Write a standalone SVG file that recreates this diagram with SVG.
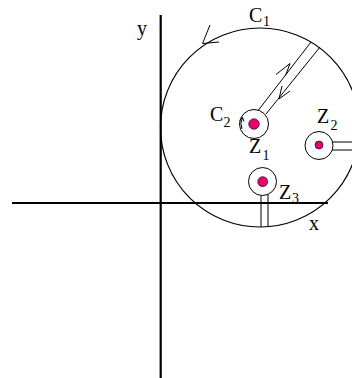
<svg xmlns="http://www.w3.org/2000/svg" width="352" height="378" viewBox="0 0 352 378">
<style>
.ax{stroke:#000;stroke-width:2.2;fill:none}
.ln{stroke:#000;stroke-width:1.2;fill:none}
.th{stroke:#000;stroke-width:1;fill:none}
.ring{stroke:#000;stroke-width:1;fill:#fff}
.dot{fill:#e8006e;stroke:#000;stroke-width:0.6}
.t{font-family:"Liberation Serif","Times New Roman",serif;font-size:20px;fill:#000}
.s{font-family:"Liberation Serif","Times New Roman",serif;font-size:14px;fill:#000}
</style>
<rect width="352" height="378" fill="#fff"/>
<g id="axes">
<line class="ax" x1="12" y1="203" x2="328" y2="203"/>
<line class="ax" x1="160.7" y1="15" x2="160.7" y2="378"/>
<text class="t" x="137" y="35">y</text>
<text class="t" x="309" y="230">x</text>
</g>
<g id="C1">
<circle class="ln" cx="260" cy="127.5" r="99.5"/>
<text class="t" x="249" y="22">C</text><text class="s" x="263" y="26">1</text>
</g>
<g id="connectors">
<line class="th" x1="257" y1="112" x2="311" y2="42"/>
<line class="th" x1="266" y1="114" x2="320" y2="47"/>
<line class="th" x1="332.7" y1="142" x2="352" y2="142"/>
<line class="th" x1="332" y1="150" x2="352" y2="150"/>
<line class="th" x1="261" y1="195.4" x2="261" y2="227"/>
<line class="th" x1="268" y1="194.4" x2="268" y2="226.7"/>
<polyline class="th" points="276,74.5 290,63.5 285.5,75.5"/>
<polyline class="th" points="290,91 279,99 282,86"/>
<polyline class="th" points="210,25 202.5,43.5 219,42"/>
</g>
<g id="Z1">
<circle class="ring" cx="254" cy="124" r="14.5"/>
<circle class="dot" cx="254" cy="124" r="5.3"/>
<path class="th" d="M242,129 Q239.5,123 242.5,117.5"/>
<polyline class="th" points="239.5,120.5 242.5,117.5 244,121.5"/>
<text class="t" x="210" y="121">C</text><text class="s" x="223.5" y="127">2</text>
<text class="t" x="249" y="153">Z</text><text class="s" x="262.5" y="160">1</text>
</g>
<g id="Z2">
<circle class="ring" cx="319" cy="145.5" r="14"/>
<circle class="dot" cx="319" cy="145" r="4"/>
<text class="t" x="317" y="123">Z</text><text class="s" x="330.5" y="130">2</text>
</g>
<g id="Z3">
<circle class="ring" cx="262.5" cy="181.5" r="14"/>
<circle class="dot" cx="262.7" cy="181.7" r="5"/>
<text class="t" x="279" y="199">Z</text><text class="s" x="292" y="203">3</text>
</g>
</svg>
